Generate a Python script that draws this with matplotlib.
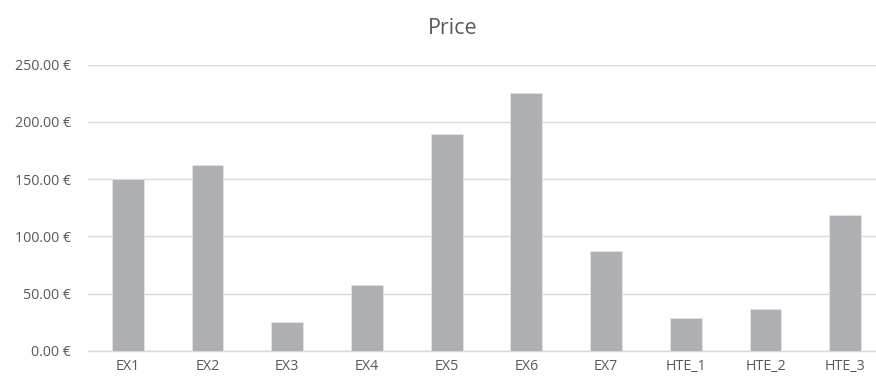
import matplotlib
matplotlib.use("Agg")
import matplotlib.pyplot as plt
import matplotlib.ticker as mtick
import numpy as np

# product prices
products = ["EX1", "EX2", "EX3", "EX4", "EX5", "EX6", "EX7", "HTE_1", "HTE_2", "HTE_3"]
prices = [150, 162.5, 25.5, 58, 189.5, 225.5, 87.5, 29, 37, 118.5]

BAR_COLOR = "#AFB0B3"
GRID_COLOR = "#D9D9D9"
TEXT_COLOR = "#595959"

plt.rcParams["font.family"] = ["Open Sans", "DejaVu Sans"]

fig = plt.figure(figsize=(8.76, 3.84), dpi=100)
ax = fig.add_axes([88 / 876, 1 - 351 / 384, 797 / 876, 286.3 / 384])

x = np.arange(len(products))
ax.bar(x, prices, 0.4, color=BAR_COLOR, edgecolor="#E4E4E5", linewidth=0.6, zorder=3)

ax.set_xlim(-0.5, len(products) - 0.5)
ax.set_ylim(0, 250)
ax.set_yticks(np.arange(0, 251, 50))
ax.yaxis.set_major_formatter(mtick.FuncFormatter(lambda v, p: f"{v:.2f} €"))
ax.set_xticks(x)
ax.set_xticklabels(products)

ax.grid(axis="y", color=GRID_COLOR, linewidth=1.0, zorder=0)
for s in ["top", "right", "left"]:
    ax.spines[s].set_visible(False)
ax.spines["bottom"].set_color(GRID_COLOR)
ax.spines["bottom"].set_linewidth(1.0)
ax.tick_params(axis="both", length=0, labelsize=10.3, colors=TEXT_COLOR)
ax.tick_params(axis="y", pad=12)
ax.tick_params(axis="x", pad=6)

fig.text(453 / 876, 1 - 28 / 384, "Price", ha="center", va="center",
         fontsize=15.5, color=TEXT_COLOR)

fig.savefig("out.png", dpi=100)
